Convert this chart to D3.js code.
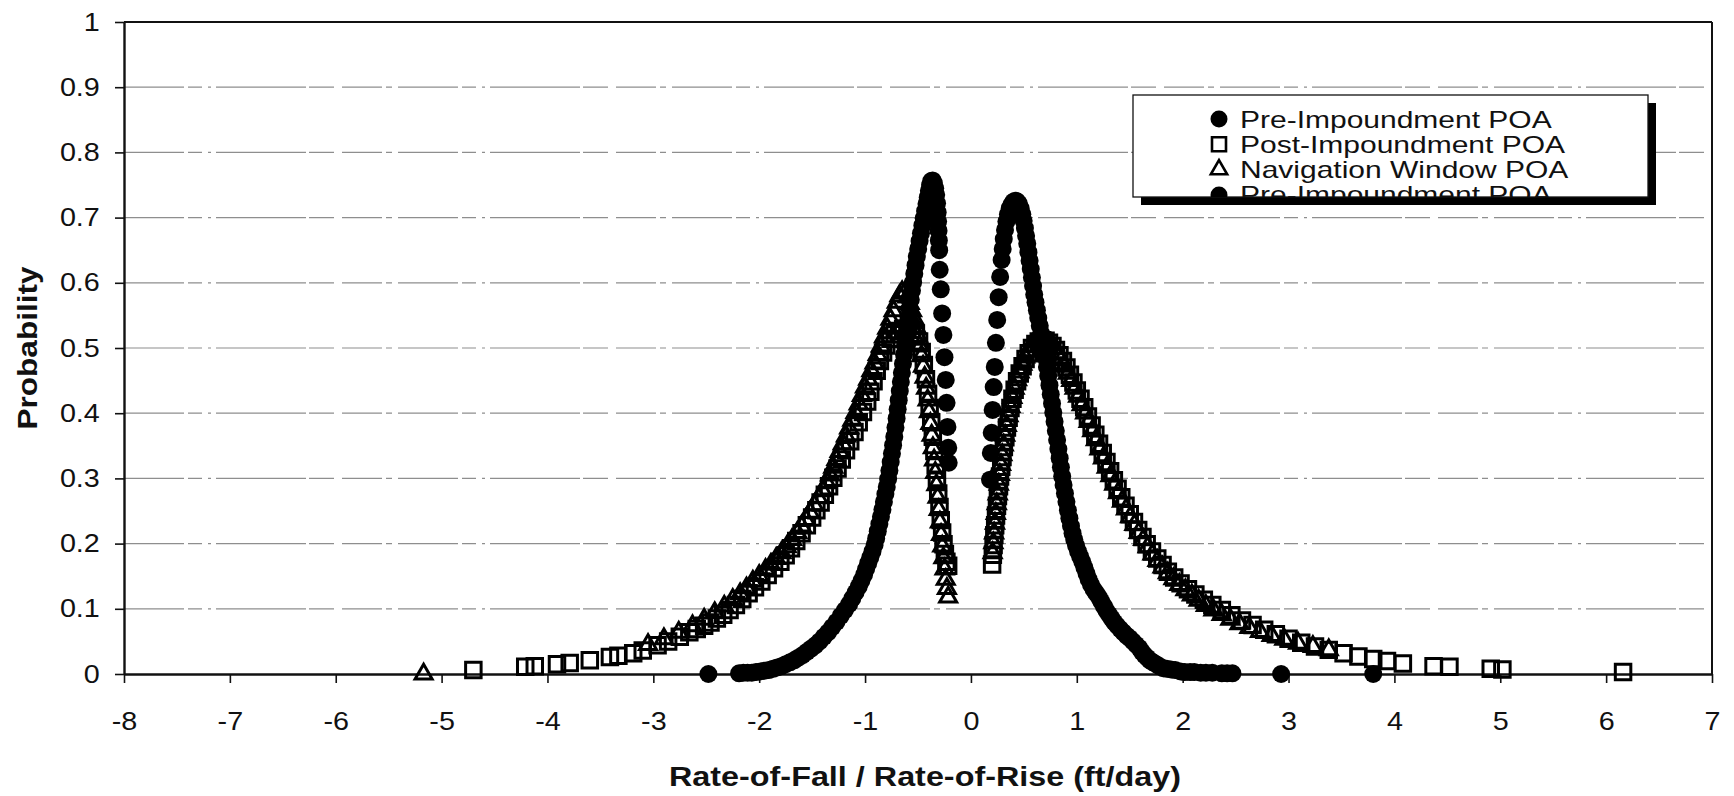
<!DOCTYPE html>
<html>
<head>
<meta charset="utf-8">
<script src="https://cdn.jsdelivr.net/npm/d3@7"></script>
<style>
  html, body { margin: 0; padding: 0; background: #fff; }
  svg { display: block; }
  text { font-family: "Liberation Sans", Arial, Helvetica, sans-serif; fill: #111; }
</style>
</head>
<body>
<svg width="1734" height="796"></svg>
<script>
// axis ticks and labels
const xTicks = [-8, -7, -6, -5, -4, -3, -2, -1, 0, 1, 2, 3, 4, 5, 6, 7];
const yTicks = [0, 0.1, 0.2, 0.3, 0.4, 0.5, 0.6, 0.7, 0.8, 0.9, 1];
const xTitle = "Rate-of-Fall / Rate-of-Rise (ft/day)";
const yTitle = "Probability";
const legendLabels = ["Pre-Impoundment POA", "Post-Impoundment POA", "Navigation Window POA", "Pre-Impoundment POA"];
const legendShapes = ["circle", "square", "triangle", "circle"];

// Pre-Impoundment POA, rate of fall (x, probability)
const preImpFall = [
  [-2.48,0.000],[-2.19,0.001],[-2.15,0.002],[-2.11,0.002],[-2.07,0.002],[-2.03,0.003],[-1.99,0.004],[-1.95,0.005],
  [-1.91,0.006],[-1.87,0.008],[-1.83,0.010],[-1.79,0.012],[-1.75,0.015],[-1.71,0.018],[-1.67,0.021],[-1.63,0.025],
  [-1.59,0.029],[-1.55,0.034],[-1.51,0.039],[-1.47,0.044],[-1.43,0.050],[-1.39,0.057],[-1.35,0.064],[-1.31,0.072],
  [-1.27,0.080],[-1.23,0.089],[-1.19,0.098],[-1.15,0.107],[-1.12,0.116],[-1.09,0.125],[-1.06,0.134],[-1.035,0.143],
  [-1.01,0.152],[-0.99,0.161],[-0.97,0.170],[-0.95,0.179],[-0.93,0.188],[-0.91,0.198],[-0.895,0.208],[-0.88,0.219],
  [-0.865,0.230],[-0.85,0.241],[-0.836,0.252],[-0.822,0.264],[-0.808,0.276],[-0.795,0.287],[-0.782,0.299],[-0.77,0.312],
  [-0.758,0.325],[-0.746,0.338],[-0.735,0.351],[-0.724,0.364],[-0.713,0.378],[-0.702,0.392],[-0.692,0.406],[-0.682,0.420],
  [-0.672,0.434],[-0.662,0.448],[-0.652,0.462],[-0.642,0.476],[-0.632,0.490],[-0.622,0.504],[-0.612,0.518],[-0.601,0.532],
  [-0.590,0.546],[-0.579,0.560],[-0.568,0.574],[-0.557,0.588],[-0.546,0.601],[-0.535,0.614],[-0.523,0.627],[-0.511,0.640],
  [-0.498,0.652],[-0.485,0.664],[-0.472,0.676],[-0.459,0.688],[-0.446,0.699],[-0.433,0.710],[-0.420,0.721],[-0.408,0.731],
  [-0.397,0.741],[-0.386,0.750],[-0.375,0.756],[-0.362,0.757],[-0.350,0.753],[-0.338,0.745],[-0.328,0.735],[-0.320,0.722],
  [-0.314,0.708],[-0.310,0.694],[-0.306,0.680],[-0.303,0.665],[-0.300,0.650],[-0.295,0.620],[-0.285,0.590],[-0.272,0.553],
  [-0.260,0.520],[-0.250,0.486],[-0.238,0.451],[-0.230,0.416],[-0.222,0.379],[-0.214,0.347],[-0.210,0.324]
];

// Pre-Impoundment POA, rate of rise
const preImpRise = [
  [0.180,0.298],[0.188,0.339],[0.196,0.370],[0.205,0.405],[0.215,0.440],[0.225,0.471],[0.236,0.508],[0.248,0.543],
  [0.262,0.578],[0.276,0.609],[0.290,0.635],[0.300,0.652],[0.310,0.667],[0.322,0.681],[0.335,0.694],[0.350,0.705],
  [0.366,0.714],[0.383,0.720],[0.400,0.724],[0.418,0.726],[0.436,0.725],[0.454,0.721],[0.470,0.714],[0.485,0.705],
  [0.498,0.695],[0.510,0.684],[0.521,0.672],[0.532,0.660],[0.543,0.647],[0.554,0.634],[0.565,0.621],[0.576,0.608],
  [0.587,0.595],[0.598,0.582],[0.610,0.570],[0.623,0.558],[0.636,0.546],[0.650,0.534],[0.664,0.522],[0.678,0.510],
  [0.692,0.498],[0.705,0.485],[0.718,0.471],[0.730,0.457],[0.742,0.443],[0.754,0.429],[0.766,0.415],[0.778,0.401],
  [0.790,0.387],[0.802,0.373],[0.814,0.359],[0.826,0.345],[0.838,0.331],[0.850,0.317],[0.862,0.303],[0.875,0.290],
  [0.888,0.277],[0.902,0.264],[0.916,0.251],[0.930,0.239],[0.945,0.227],[0.960,0.216],[0.976,0.206],[0.993,0.197],
  [1.012,0.188],[1.032,0.180],[1.052,0.172],[1.072,0.163],[1.092,0.154],[1.112,0.145],[1.134,0.137],[1.158,0.130],
  [1.183,0.124],[1.208,0.118],[1.232,0.111],[1.256,0.104],[1.280,0.097],[1.305,0.091],[1.330,0.085],[1.356,0.079],
  [1.382,0.074],[1.410,0.069],[1.440,0.064],[1.470,0.059],[1.500,0.055],[1.530,0.050],[1.560,0.045],[1.590,0.040],
  [1.615,0.034],[1.640,0.029],[1.665,0.025],[1.690,0.021],[1.720,0.018],[1.750,0.015],[1.780,0.012],[1.815,0.009],
  [1.850,0.008],[1.890,0.007],[1.930,0.006],[1.980,0.004],[2.020,0.003],[2.070,0.003],[2.110,0.003],[2.170,0.002],
  [2.220,0.002],[2.280,0.002],[2.370,0.001],[2.420,0.001],[2.470,0.001],[2.930,0.000],[3.800,0.000]
];

// Post-Impoundment POA (fall and rise)
const postImp = [
  [-4.70,0.006],[-4.21,0.011],[-4.12,0.012],[-3.91,0.015],[-3.79,0.017],[-3.60,0.021],[-3.41,0.026],[-3.33,0.028],
  [-3.19,0.032],[-3.10,0.036],[-2.96,0.044],[-2.86,0.050],[-2.75,0.057],[-2.66,0.064],[-2.59,0.069],[-2.52,0.074],
  [-2.46,0.079],[-2.40,0.085],[-2.34,0.091],[-2.28,0.098],[-2.22,0.106],[-2.16,0.115],[-2.10,0.124],[-2.04,0.133],
  [-1.98,0.142],[-1.92,0.152],[-1.86,0.162],[-1.80,0.172],[-1.75,0.182],[-1.70,0.193],[-1.65,0.204],[-1.60,0.216],
  [-1.55,0.228],[-1.50,0.240],[-1.46,0.251],[-1.42,0.263],[-1.38,0.275],[-1.34,0.288],[-1.30,0.301],[-1.26,0.315],
  [-1.22,0.329],[-1.18,0.343],[-1.14,0.357],[-1.10,0.371],[-1.06,0.386],[-1.02,0.402],[-0.98,0.418],[-0.95,0.433],
  [-0.92,0.449],[-0.89,0.465],[-0.86,0.480],[-0.83,0.493],[-0.80,0.504],[-0.76,0.514],[-0.72,0.521],[-0.68,0.526],
  [-0.64,0.529],[-0.60,0.530],[-0.56,0.528],[-0.52,0.522],[-0.49,0.510],[-0.465,0.494],[-0.445,0.474],[-0.425,0.452],
  [-0.405,0.430],[-0.39,0.408],[-0.375,0.386],[-0.36,0.364],[-0.345,0.342],[-0.333,0.320],[-0.321,0.298],[-0.309,0.277],
  [-0.297,0.256],[-0.285,0.236],[-0.272,0.217],[-0.259,0.199],[-0.246,0.184],[-0.232,0.172],[-0.215,0.166],
  [0.200,0.168],[0.207,0.183],[0.214,0.198],[0.221,0.213],[0.229,0.228],[0.237,0.243],[0.246,0.258],[0.255,0.273],
  [0.265,0.288],[0.275,0.303],[0.286,0.318],[0.298,0.333],[0.311,0.348],[0.325,0.363],[0.340,0.378],[0.356,0.393],
  [0.373,0.408],[0.392,0.422],[0.413,0.436],[0.436,0.449],[0.461,0.461],[0.488,0.472],[0.516,0.483],[0.546,0.492],
  [0.577,0.500],[0.609,0.506],[0.641,0.510],[0.673,0.512],[0.705,0.511],[0.737,0.508],[0.770,0.503],[0.803,0.497],
  [0.836,0.489],[0.869,0.480],[0.902,0.470],[0.935,0.459],[0.968,0.447],[1.000,0.435],[1.035,0.422],[1.070,0.409],
  [1.105,0.395],[1.140,0.381],[1.175,0.367],[1.210,0.353],[1.245,0.339],[1.280,0.325],[1.315,0.311],[1.350,0.297],
  [1.385,0.284],[1.420,0.271],[1.460,0.258],[1.500,0.245],[1.540,0.233],[1.580,0.221],[1.620,0.210],[1.660,0.199],
  [1.710,0.188],[1.760,0.177],[1.810,0.167],[1.860,0.157],[1.920,0.148],[1.980,0.139],[2.050,0.130],[2.120,0.122],
  [2.200,0.114],[2.280,0.106],[2.370,0.098],[2.460,0.090],[2.560,0.082],[2.660,0.075],[2.770,0.068],[2.880,0.061],
  [3.000,0.054],[3.120,0.048],[3.250,0.042],[3.380,0.037],[3.520,0.032],[3.660,0.027],[3.800,0.023],[3.930,0.020],
  [4.080,0.016],[4.370,0.012],[4.520,0.011],[4.910,0.008],[5.020,0.007],[6.160,0.003]
];

// Navigation Window POA (fall and rise)
const navWindow = [
  [-5.17,0.000],[-3.05,0.045],[-2.90,0.054],[-2.76,0.064],[-2.63,0.074],[-2.52,0.084],[-2.42,0.094],[-2.33,0.104],
  [-2.25,0.114],[-2.18,0.123],[-2.12,0.132],[-2.06,0.142],[-2.00,0.151],[-1.94,0.160],[-1.89,0.168],[-1.84,0.177],
  [-1.79,0.186],[-1.74,0.195],[-1.69,0.206],[-1.64,0.217],[-1.60,0.227],[-1.56,0.237],[-1.52,0.248],[-1.48,0.259],
  [-1.44,0.270],[-1.40,0.281],[-1.36,0.293],[-1.33,0.305],[-1.30,0.317],[-1.27,0.329],[-1.24,0.341],[-1.21,0.353],
  [-1.18,0.365],[-1.15,0.377],[-1.12,0.389],[-1.09,0.401],[-1.06,0.414],[-1.03,0.427],[-1.00,0.440],[-0.97,0.452],
  [-0.94,0.465],[-0.91,0.477],[-0.88,0.490],[-0.85,0.503],[-0.82,0.517],[-0.79,0.530],[-0.76,0.544],[-0.73,0.557],
  [-0.70,0.570],[-0.675,0.580],[-0.650,0.586],[-0.625,0.585],[-0.600,0.578],[-0.578,0.568],[-0.557,0.557],[-0.537,0.545],
  [-0.518,0.532],[-0.500,0.518],[-0.483,0.503],[-0.467,0.488],[-0.452,0.472],[-0.437,0.455],[-0.423,0.438],[-0.409,0.420],
  [-0.396,0.402],[-0.383,0.384],[-0.371,0.366],[-0.359,0.347],[-0.348,0.328],[-0.337,0.309],[-0.326,0.290],[-0.315,0.271],
  [-0.304,0.252],[-0.293,0.233],[-0.282,0.214],[-0.271,0.196],[-0.260,0.178],[-0.249,0.161],[-0.238,0.145],[-0.227,0.131],
  [-0.215,0.118],
  [0.205,0.186],[0.212,0.201],[0.219,0.216],[0.227,0.231],[0.235,0.246],[0.244,0.261],[0.253,0.276],[0.263,0.291],
  [0.273,0.306],[0.284,0.321],[0.296,0.336],[0.309,0.351],[0.323,0.366],[0.338,0.381],[0.354,0.396],[0.372,0.410],
  [0.391,0.424],[0.412,0.438],[0.435,0.451],[0.459,0.463],[0.485,0.475],[0.512,0.486],[0.540,0.495],[0.569,0.503],
  [0.599,0.509],[0.630,0.513],[0.661,0.514],[0.692,0.513],[0.724,0.510],[0.756,0.505],[0.788,0.499],[0.820,0.491],
  [0.852,0.482],[0.884,0.472],[0.916,0.461],[0.948,0.450],[0.980,0.438],[1.013,0.426],[1.046,0.413],[1.079,0.400],
  [1.112,0.387],[1.146,0.373],[1.180,0.359],[1.214,0.345],[1.248,0.331],[1.283,0.317],[1.318,0.304],[1.354,0.291],
  [1.390,0.278],[1.427,0.265],[1.465,0.253],[1.504,0.241],[1.544,0.229],[1.585,0.217],[1.627,0.206],[1.670,0.195],
  [1.715,0.184],[1.762,0.174],[1.810,0.164],[1.860,0.155],[1.913,0.146],[1.968,0.137],[2.026,0.129],[2.087,0.121],
  [2.151,0.113],[2.219,0.105],[2.291,0.098],[2.368,0.091],[2.450,0.084],[2.537,0.077],[2.630,0.071],[2.730,0.065],
  [2.840,0.059],[2.960,0.053],[3.090,0.047],[3.230,0.042],[3.380,0.037]
];

function drawChart() {
    const svg = d3.select("svg");
    svg.selectAll("*").remove();

    // область построения
    const area = { left: 124, right: 1712, top: 22, bottom: 674 };
    const scX = d3.scaleLinear().domain([-8, 7]).range([area.left, area.right]);
    const scY = d3.scaleLinear().domain([0, 1]).range([area.bottom, area.top]);

    // сетка (серые, прерывистые как на скане)
    svg.append("g")
        .selectAll("line")
        .data(yTicks.filter(t => t > 0 && t < 1))
        .enter()
        .append("line")
        .attr("x1", scX(-8)).attr("x2", scX(7))
        .attr("y1", d => scY(d)).attr("y2", d => scY(d))
        .attr("stroke", "#8e8e8e")
        .attr("stroke-width", 1.2)
        .attr("stroke-dasharray", "60,4,14,6,3,5,90,3,25,8,40,4,6,6");

    // оси
    const axisX = d3.axisBottom(scX).tickValues(xTicks).tickFormat(d => String(d))
        .tickSize(9).tickSizeOuter(0).tickPadding(29);
    const axisY = d3.axisLeft(scY).tickValues(yTicks).tickFormat(d3.format("~g"))
        .tickSize(9).tickSizeOuter(0).tickPadding(12);

    const gx = svg.append("g").attr("transform", `translate(0, ${area.bottom})`).call(axisX);
    const gy = svg.append("g").attr("transform", `translate(${area.left}, 0)`).call(axisY);

    [gx, gy].forEach(g => {
        g.select(".domain").attr("stroke", "#111").attr("stroke-width", 2.4);
        g.selectAll(".tick line").attr("stroke", "#111").attr("stroke-width", 1.6);
        g.selectAll("text")
            .attr("font-size", 25)
            .attr("fill", "#111")
            .attr("font-family", "Liberation Sans, Arial, sans-serif")
            .attr("transform", "scale(1.15,1)");
    });

    // рамка сверху и справа
    svg.append("line")
        .attr("x1", scX(-8)).attr("x2", scX(7)).attr("y1", scY(1)).attr("y2", scY(1))
        .attr("stroke", "#111").attr("stroke-width", 2);
    svg.append("line")
        .attr("x1", scX(7)).attr("x2", scX(7)).attr("y1", scY(1)).attr("y2", scY(0))
        .attr("stroke", "#111").attr("stroke-width", 2);

    // точки
    const squarePath = d3.symbol().type(d3.symbolSquare).size(240)();
    const trianglePath = d3.symbol().type(d3.symbolTriangle).size(125)();

    const pre = preImpFall.concat(preImpRise);
    svg.append("g").selectAll("circle")
        .data(pre)
        .enter()
        .append("circle")
        .attr("cx", d => scX(d[0]))
        .attr("cy", d => scY(d[1]))
        .attr("r", 9)
        .attr("fill", "#000");

    // полые маркеры без заливки — при наложении дают тёмную "сетку", как на скане
    svg.append("g").selectAll("path")
        .data(postImp)
        .enter()
        .append("path")
        .attr("d", squarePath)
        .attr("transform", d => `translate(${scX(d[0])}, ${scY(d[1])})`)
        .attr("fill", "none")
        .attr("stroke", "#000")
        .attr("stroke-width", 3);

    svg.append("g").selectAll("path")
        .data(navWindow)
        .enter()
        .append("path")
        .attr("d", trianglePath)
        .attr("transform", d => `translate(${scX(d[0])}, ${scY(d[1])})`)
        .attr("fill", "none")
        .attr("stroke", "#000")
        .attr("stroke-width", 3);

    // подписи осей
    svg.append("text")
        .attr("x", 925).attr("y", 786)
        .attr("text-anchor", "middle")
        .attr("font-size", 27)
        .attr("font-weight", "bold")
        .attr("textLength", 512)
        .attr("lengthAdjust", "spacingAndGlyphs")
        .text(xTitle);

    svg.append("text")
        .attr("transform", "translate(37, 348) rotate(-90)")
        .attr("text-anchor", "middle")
        .attr("font-size", 28)
        .attr("font-weight", "bold")
        .attr("textLength", 163)
        .attr("lengthAdjust", "spacingAndGlyphs")
        .text(yTitle);

    // легенда с тенью
    const lg = { x: 1133, y: 95, w: 515, h: 102, shadow: 8 };
    svg.append("rect")
        .attr("x", lg.x + lg.shadow).attr("y", lg.y + lg.shadow)
        .attr("width", lg.w).attr("height", lg.h)
        .attr("fill", "#000");
    svg.append("rect")
        .attr("x", lg.x).attr("y", lg.y)
        .attr("width", lg.w).attr("height", lg.h)
        .attr("fill", "#fff").attr("stroke", "#111").attr("stroke-width", 1.3);

    svg.append("clipPath").attr("id", "legClip")
        .append("rect").attr("x", lg.x).attr("y", lg.y).attr("width", lg.w).attr("height", lg.h);

    const items = svg.append("g").attr("clip-path", "url(#legClip)")
        .selectAll("g")
        .data(legendLabels)
        .enter()
        .append("g")
        .attr("transform", (d, i) => `translate(1219, ${119 + i * 25.3})`);

    items.each(function(d, i) {
        const g = d3.select(this);
        const shape = legendShapes[i];
        if (shape === "circle") {
            g.append("circle").attr("r", 8.5).attr("fill", "#000");
        } else if (shape === "square") {
            g.append("path").attr("d", d3.symbol().type(d3.symbolSquare).size(196)())
                .attr("fill", "#fff").attr("stroke", "#000").attr("stroke-width", 2.6);
        } else {
            g.append("path").attr("d", d3.symbol().type(d3.symbolTriangle).size(115)())
                .attr("fill", "#fff").attr("stroke", "#000").attr("stroke-width", 2.6);
        }
        g.append("text")
            .attr("transform", "translate(21, 8.5) scale(1.25,1)")
            .attr("font-size", 24)
            .text(d);
    });
}

drawChart();
</script>
</body>
</html>
